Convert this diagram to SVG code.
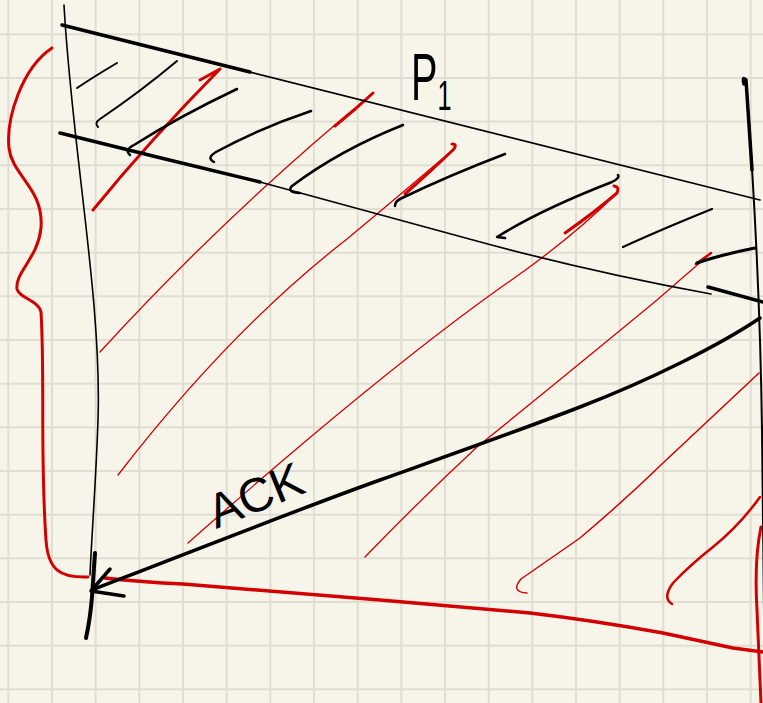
<svg xmlns="http://www.w3.org/2000/svg" width="763" height="703" viewBox="0 0 763 703">
<style>
.grid{stroke:#e0ded2;stroke-width:2;fill:none}
.k{stroke:#000;fill:none;stroke-linecap:round;stroke-linejoin:round}
.r{stroke:#d20000;fill:none;stroke-linecap:round;stroke-linejoin:round}
.lbl{font-family:"Liberation Sans",Arial,sans-serif;fill:#000}
</style>
<rect width="763" height="703" fill="#f7f5e9"/>
<g id="grid" class="grid">
<path d="M8.3,0V703M52,0V703M95.6,0V703M139.3,0V703M183,0V703M226.7,0V703M270.3,0V703M314,0V703M357.7,0V703M401.3,0V703M445,0V703M488.7,0V703M532.3,0V703M576,0V703M619.7,0V703M663.3,0V703M707,0V703M750.7,0V703"/>
<path d="M0,34.3H763M0,78H763M0,121.6H763M0,165.3H763M0,209H763M0,252.7H763M0,296.3H763M0,340H763M0,383.7H763M0,427.3H763M0,471H763M0,514.7H763M0,558.3H763M0,602H763M0,645.7H763M0,689.3H763"/>
</g>
<g id="red-strokes">
<path class="r" stroke-width="3" d="M52,48 C22,68 6,118 9,148 C12,176 44,188 41,228 C38,258 15,272 17,289 C19,298 38,300 41,312 C45,380 40,455 46,540 C48,570 60,578 88,577"/>
<path class="r" stroke-width="3.5" d="M105,578 C140,582 160,583 183,584 L380,600 L530,613 C590,620 630,627 663,633 L733,648 L763,652"/>
<path class="r" stroke-width="3" d="M761,527 Q754,560 757,610 L761,703"/>
<path class="r" stroke-width="3" d="M93,210 Q150,140 220,69 M200,80 L220,69"/>
<path class="r" stroke-width="1.3" d="M100,352 Q225,215 373,93"/>
<path class="r" stroke-width="3" d="M335,126 Q355,110 373,93"/>
<path class="r" stroke-width="1.3" d="M118,475 Q230,330 347,239 Q400,195 455,148"/>
<path class="r" stroke-width="3" d="M405,194 Q430,172 453,150 Q458,144 452,144"/>
<path class="r" stroke-width="1.3" d="M188,543 Q250,488 307,440 Q420,345 500,288 Q570,240 617,193"/>
<path class="r" stroke-width="3" d="M565,233 Q595,212 617,193 Q620,187 614,186"/>
<path class="r" stroke-width="1.3" d="M365,557 Q420,500 477,447 Q560,380 657,300 L711,253"/>
<path class="r" stroke-width="2.5" d="M696,264 L711,253"/>
<path class="r" stroke-width="1.5" d="M527,593 Q510,592 521,579 L580,538 Q625,500 663,463 L759,373"/>
<path class="r" stroke-width="2.5" d="M672,604 Q662,598 673,583 Q690,565 713,547 Q740,525 760,497"/>
</g>
<g id="black-strokes">
<path class="k" stroke-width="1.6" d="M64,5 C72,150 102,300 98,420 C96,480 92,530 90,575"/>
<path class="k" stroke-width="4" d="M95,553 L92,597 Q90,620 86,638"/>
<path class="k" stroke-width="2" d="M744,84 Q742,76 746,80 C752,160 760,280 762,430 L765,703"/>
<path class="k" stroke-width="3.5" d="M744,84 Q742,76 746,80 L752,170"/>
<path class="k" stroke-width="1.7" d="M62,25 L760,200"/>
<path class="k" stroke-width="3.5" d="M62,25 L250,72"/>
<path class="k" stroke-width="1.7" d="M60,133 Q160,158 260,182 L473,240 Q590,272 711,294"/>
<path class="k" stroke-width="3.5" d="M60,133 Q160,158 260,182"/>
<path class="k" stroke-width="3.5" d="M708,287 L763,302"/>
<path class="k" stroke-width="2" d="M77,88 Q95,76 117,63"/>
<path class="k" stroke-width="2" d="M98,127 Q94,123 100,119 Q140,92 177,61"/>
<path class="k" stroke-width="2.5" d="M130,155 Q124,150 134,145 Q180,116 237,89"/>
<path class="k" stroke-width="2.5" d="M214,162 Q206,158 216,152 Q260,128 311,111"/>
<path class="k" stroke-width="2.5" d="M300,193 Q286,192 292,186 Q340,150 403,125"/>
<path class="k" stroke-width="2.5" d="M395,206 Q395,201 402,198 Q450,175 505,154"/>
<path class="k" stroke-width="2.5" d="M505,238 L497,237 Q540,210 612,182 Q620,178 618,175"/>
<path class="k" stroke-width="2.2" d="M623,247 Q660,230 712,209"/>
<path class="k" stroke-width="3.2" d="M697,263 Q720,255 755,248"/>
</g>
<g id="ack-connector">
<path class="k" stroke-width="3.5" d="M760,318 C720,345 650,380 580,407 C510,434 450,455 380,480 C310,505 200,548 92,590"/>
<polyline class="k" stroke-width="3.5" points="110,569 91,591 124,596"/>
</g>
<g id="labels">
<text class="lbl" font-size="48" transform="translate(216,529) rotate(-22)">ACK</text>
<text class="lbl" font-size="66" transform="translate(411,100) scale(0.6,1)">P<tspan dy="10" font-size="42">1</tspan></text>
</g>
</svg>
